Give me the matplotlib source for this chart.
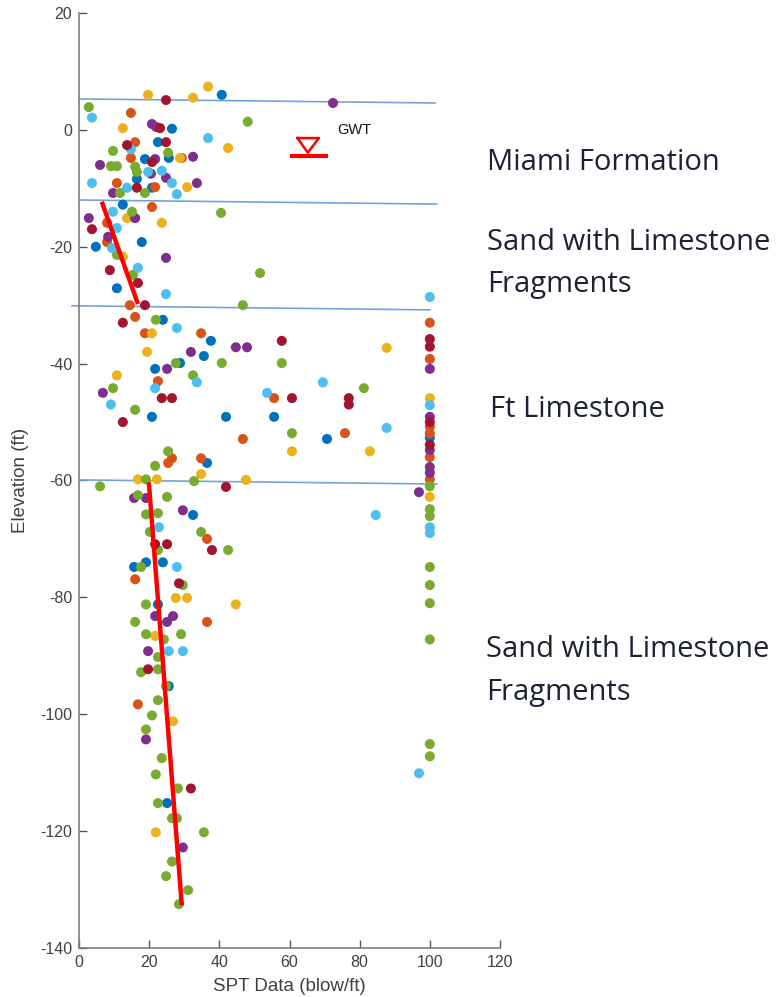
import matplotlib
matplotlib.use("Agg")
import matplotlib.pyplot as plt

plt.rcParams["axes.unicode_minus"] = False

# ---------------- data ----------------
blue_x = [40.7, 26.5, 22.5, 25.6, 18.8, 16.5, 20.8, 12.5, 17.9, 4.8, 10.8,
          23.9, 37.6, 35.6, 28.8, 21.7, 20.8, 41.9, 55.6, 70.7, 36.5, 100,
          32.5, 19.1, 23.9, 15.7, 22.5, 25.6, 25.1]
blue_y = [6.0, 0.2, -2.1, -4.8, -5.0, -8.4, -9.9, -12.8, -19.2, -20.0, -27.1,
          -32.5, -36.1, -38.7, -39.9, -40.9, -49.1, -49.1, -49.1, -52.9, -57.0, -52.7,
          -65.9, -74.0, -74.0, -74.8, -81.2, -95.2, -115.2]

orange_x = [14.8, 16.0, 29.3, 10.8, 21.7, 14.8, 20.8, 8.0, 8.0, 14.5,
            16.0, 18.8, 34.8, 22.5, 55.6, 46.7, 75.8, 26.5, 25.4, 34.8,
            100, 100, 100, 100, 100, 100,
            36.5, 16.0, 36.5, 16.8]
orange_y = [2.9, -2.1, -4.8, -9.1, -9.8, -4.8, -13.2, -15.9, -19.2, -30.0,
            -32.0, -34.8, -34.8, -43.0, -45.9, -52.9, -51.9, -56.2, -57.0, -56.2,
            -33.0, -39.2, -50.8, -51.9, -56.0, -59.8,
            -70.0, -76.9, -84.2, -98.3]

yellow_x = [19.7, 32.5, 36.8, 12.5, 42.5, 30.8, 28.8, 13.7, 23.6, 12.5,
            20.8, 87.7, 19.4, 10.8, 60.7, 82.9, 34.8, 100,
            16.8, 22.2, 47.6, 100, 27.6, 30.8, 44.7, 21.7, 26.8, 21.9]
yellow_y = [6.0, 5.5, 7.4, 0.3, -3.1, -9.8, -4.8, -15.1, -15.9, -21.7,
            -34.8, -37.3, -38.0, -42.0, -55.0, -55.0, -58.9, -45.9,
            -59.8, -59.8, -59.9, -62.8, -80.1, -80.1, -81.2, -86.6, -101.2, -120.2]

purple_x = [72.4, 20.8, 22.0, 32.5, 21.7, 6.0, 20.5, 24.8, 33.6, 9.7,
            16.0, 2.8, 8.3, 24.8,
            44.7, 47.9, 31.9, 25.1, 6.8, 100, 100, 100, 100, 100,
            96.9, 15.7, 19.1, 29.6, 21.7, 25.1, 26.8, 19.7, 19.1, 29.6]
purple_y = [4.6, 1.0, 0.5, -4.6, -5.0, -6.0, -7.5, -8.2, -9.1, -10.8,
            -15.1, -15.1, -18.3, -21.9,
            -37.2, -37.2, -38.0, -40.9, -45.0, -40.9, -49.1, -54.8, -57.7, -58.7,
            -62.0, -63.0, -63.0, -65.1, -83.2, -84.2, -83.2, -89.2, -104.3, -122.8]

green_x = [2.8, 48.1, 9.7, 25.4, 9.1, 10.8, 16.0, 16.5, 11.7, 18.8,
           15.1, 40.5, 10.8, 15.4, 51.6, 46.7,
           21.9, 57.8, 40.7, 27.6, 9.7, 32.5, 16.0, 60.7, 81.2, 25.4, 21.7,
           19.1, 32.8, 6.0, 16.8, 25.1, 19.1, 22.5, 20.2, 34.8, 22.5, 42.5,
           17.7, 29.6, 19.1, 16.0, 19.1, 24.2, 29.1, 22.5, 17.7, 22.5, 24.8,
           22.5, 20.8, 19.1, 23.6, 21.9, 28.2, 22.5, 26.5, 27.9, 35.6, 26.5,
           24.8, 31.1, 28.5,
           100, 100, 100, 100, 100, 100, 100, 100, 100]
green_y = [3.9, 1.4, -3.6, -3.9, -6.2, -6.2, -6.3, -7.2, -10.8, -10.8,
           -14.0, -14.2, -21.4, -24.8, -24.5, -30.0,
           -32.5, -39.9, -39.9, -39.9, -44.2, -42.0, -47.9, -51.9, -44.2, -55.0, -57.5,
           -59.8, -60.1, -61.0, -62.5, -62.8, -65.8, -65.6, -68.8, -68.8, -71.9, -71.9,
           -74.8, -77.9, -81.2, -84.2, -86.3, -87.2, -86.3, -90.2, -92.8, -92.3, -95.2,
           -97.6, -100.2, -102.6, -107.5, -110.3, -112.7, -115.2, -117.8, -117.8, -120.2, -125.2,
           -127.7, -130.1, -132.5,
           -61.0, -64.9, -66.1, -74.8, -77.9, -81.0, -87.2, -105.1, -107.2]

cyan_x = [3.7, 36.8, 14.8, 19.7, 23.6, 26.5, 3.7, 13.7, 27.9,
          9.7, 10.8, 9.4, 16.8, 24.8, 100,
          27.9, 21.7, 33.6, 53.6, 69.5, 9.1, 87.7, 100,
          22.8, 27.9, 25.6, 29.6, 84.6, 100, 100, 96.9]
cyan_y = [2.1, -1.4, -3.3, -7.2, -7.0, -9.1, -9.1, -9.9, -11.0,
          -14.0, -16.8, -20.2, -23.6, -28.1, -28.6,
          -33.9, -44.2, -43.2, -45.0, -43.2, -47.0, -51.0, -47.1,
          -68.0, -74.8, -89.2, -89.2, -65.9, -68.0, -69.0, -110.1]

darkred_x = [24.8, 23.1, 13.7, 24.8, 20.8, 16.5,
             3.7, 8.8, 16.8, 18.8,
             12.5, 57.8, 12.5, 23.6, 26.5, 60.7, 76.9, 76.9,
             100, 100, 100, 100,
             41.9, 21.7, 25.1, 37.9, 28.5, 19.7, 31.9]
darkred_y = [5.1, 0.3, -2.6, -2.1, -5.5, -9.9,
             -17.0, -24.0, -26.2, -30.0,
             -33.0, -36.1, -50.0, -45.9, -45.9, -45.9, -45.9, -47.0,
             -35.8, -37.1, -50.0, -53.9,
             -61.1, -70.9, -70.9, -71.9, -77.6, -92.3, -112.7]

# layer boundaries (left / right elevations)
layer_x0 = [0, 0, -2, 0]
layer_x1 = [101.5, 102, 100, 102]
layer_y0 = [5.3, -12.0, -30.1, -59.9]
layer_y1 = [4.6, -12.7, -30.8, -60.6]

# red trend lines
trend_upper_x = [6.5, 16.8]
trend_upper_y = [-12.3, -29.8]
trend_lower_x = [19.9, 29.3]
trend_lower_y = [-60.3, -132.7]

# groundwater table symbol
gwt_tri_x = [62.3, 68.4, 65.2, 62.3]
gwt_tri_y = [-1.4, -1.4, -3.9, -1.4]
gwt_bar_x = [60.1, 71.0]
gwt_bar_y = [-4.5, -4.5]

x_ticks = [0, 20, 40, 60, 80, 100, 120]
y_ticks = [20, 0, -20, -40, -60, -80, -100, -120, -140]

layer_lines = ["Miami Formation", "Sand with Limestone", "Fragments", "Ft Limestone",
               "Sand with Limestone", "Fragments"]

# ---------------- figure ----------------
W, H = 779, 997
fig = plt.figure(figsize=(W / 100, H / 100), dpi=100)
ax = fig.add_axes([79 / W, 1 - 948 / H, (500 - 79) / W, (948 - 13) / H])

series = [
    (blue_x, blue_y, "#0072BD"),
    (orange_x, orange_y, "#D95319"),
    (yellow_x, yellow_y, "#EDB120"),
    (purple_x, purple_y, "#7E2F8E"),
    (green_x, green_y, "#77AC30"),
    (cyan_x, cyan_y, "#4DBEEE"),
    (darkred_x, darkred_y, "#A2142F"),
]
for xs, ys, c in series:
    ax.scatter(xs, ys, s=52, color=c, edgecolors="none", zorder=3, clip_on=False)

for x0, x1, y0, y1 in zip(layer_x0, layer_x1, layer_y0, layer_y1):
    ax.plot([x0, x1], [y0, y1], color="#6fa3dc", lw=1.2, zorder=2, clip_on=False)

ax.plot(trend_upper_x, trend_upper_y, color="#ff0000", lw=3.2, zorder=4, solid_capstyle="butt")
ax.plot(trend_lower_x, trend_lower_y, color="#ff0000", lw=3.2, zorder=4, solid_capstyle="butt")

ax.plot(gwt_tri_x, gwt_tri_y, color="#ff0000", lw=1.8, zorder=4)
ax.plot(gwt_bar_x, gwt_bar_y, color="#ff0000", lw=3.0, zorder=4, solid_capstyle="butt")
ax.text(73.5, 0.0, "GWT", fontsize=10.5, family="Liberation Sans", color="#111111",
        va="center", ha="left")

ax.set_xlim(0, 120)
ax.set_ylim(-140, 20)
ax.set_xticks(x_ticks)
ax.set_yticks(y_ticks)
for sp in ["top", "right"]:
    ax.spines[sp].set_visible(False)
for sp in ["left", "bottom"]:
    ax.spines[sp].set_color("#7f7f7f")
    ax.spines[sp].set_linewidth(1.2)
ax.tick_params(direction="in", length=6, width=1.0, color="#555555",
               labelsize=11.5, labelcolor="#404040", pad=5)
for lab in ax.get_xticklabels() + ax.get_yticklabels():
    lab.set_family("Liberation Sans")

ax.set_xlabel("SPT Data (blow/ft)", fontsize=13.5, family="Liberation Sans", color="#404040",
              labelpad=6)
ax.set_ylabel("Elevation (ft)", fontsize=13.5, family="Liberation Sans", color="#404040",
              labelpad=8)

# layer names to the right of the plot (baseline positions in pixels)
name_pos = [(487, 170), (487, 250), (487, 292), (490, 417), (486, 657), (486, 700)]
for (px, py), name in zip(name_pos, layer_lines):
    fig.text(px / W, 1 - py / H, name, fontsize=21, family="Open Sans",
             color="#1c2233", ha="left", va="baseline")

fig.savefig("out.png", dpi=100)
